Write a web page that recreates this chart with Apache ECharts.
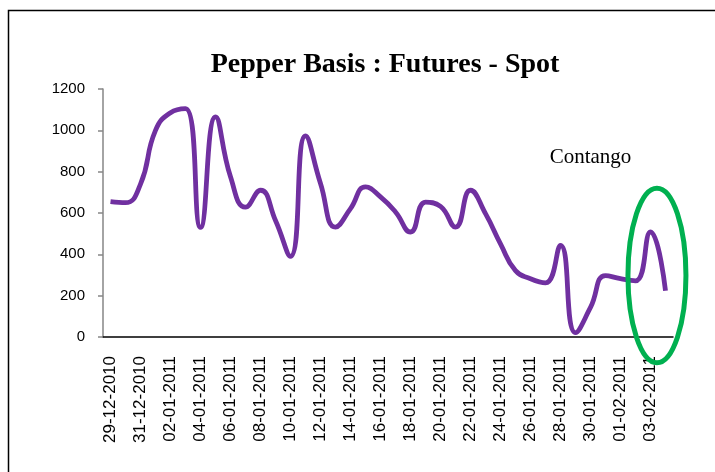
<!DOCTYPE html>
<html>
<head>
<meta charset="utf-8">
<script src="https://cdn.jsdelivr.net/npm/echarts@6/dist/echarts.min.js"></script>
<style>
  html, body { margin: 0; padding: 0; background: #fff; }
  #chart { width: 715px; height: 472px; }
</style>
</head>
<body>
<div id="chart"></div>
<script>
// every calendar day from 29-12-2010 to 04-02-2011
var dates = [
  "29-12-2010", "30-12-2010", "31-12-2010",
  "01-01-2011", "02-01-2011", "03-01-2011", "04-01-2011", "05-01-2011",
  "06-01-2011", "07-01-2011", "08-01-2011", "09-01-2011", "10-01-2011",
  "11-01-2011", "12-01-2011", "13-01-2011", "14-01-2011", "15-01-2011",
  "16-01-2011", "17-01-2011", "18-01-2011", "19-01-2011", "20-01-2011",
  "21-01-2011", "22-01-2011", "23-01-2011", "24-01-2011", "25-01-2011",
  "26-01-2011", "27-01-2011", "28-01-2011", "29-01-2011", "30-01-2011",
  "31-01-2011", "01-02-2011", "02-02-2011", "03-02-2011", "04-02-2011"
];

// basis = futures - spot
var basis = [
  655, 650, 740, 1000, 1085, 1105, 530, 1065, 775, 628,
  710, 564, 390, 973, 743, 532, 621, 726, 678, 605,
  508, 653, 632, 532, 710, 597, 451, 321, 282, 262,
  443, 21, 143, 297, 282, 272, 508, 224
];

var yTicks = { min: 0, max: 1200, interval: 200 };

var chart = echarts.init(document.getElementById("chart"));

chart.setOption({
  backgroundColor: "#ffffff",
  animation: false,
  title: {
    text: "Pepper Basis : Futures - Spot",
    left: 380,
    top: 46,
    textAlign: "center",
    textStyle: {
      fontFamily: "Liberation Serif",
      fontWeight: "bold",
      fontSize: 28,
      color: "#000"
    }
  },
  grid: {
    left: 103,
    right: 42,
    top: 89,
    bottom: 135
  },
  xAxis: {
    type: "category",
    data: dates,
    boundaryGap: true,
    axisLine: { lineStyle: { color: "#000", width: 1.5 } },
    axisTick: {
      interval: 1,
      length: 6,
      lineStyle: { color: "#000", width: 1.5 }
    },
    axisLabel: {
      interval: 1,
      rotate: 90,
      margin: 19,
      fontFamily: "Liberation Sans",
      fontSize: 17,
      color: "#000"
    },
    splitLine: { show: false }
  },
  yAxis: {
    type: "value",
    min: yTicks.min,
    max: yTicks.max,
    interval: yTicks.interval,
    axisLine: { show: true, lineStyle: { color: "#868686", width: 1.5 } },
    axisTick: { show: true, length: 5, lineStyle: { color: "#868686", width: 1.5 } },
    axisLabel: {
      margin: 18,
      fontFamily: "Liberation Sans",
      fontSize: 15,
      color: "#000",
      formatter: function (v) { return String(v); }
    },
    splitLine: { show: false }
  },
  series: [
    {
      name: "Basis",
      type: "line",
      data: basis,
      smooth: 0.5,
      showSymbol: false,
      lineStyle: { color: "#7030a0", width: 4.8 }
    }
  ]
});

// annotation: frame, label and ellipse placed from the axes
var p36 = chart.convertToPixel({ seriesIndex: 0 }, [36, 0]);
var p37 = chart.convertToPixel({ seriesIndex: 0 }, [37, 0]);
var step = p37[0] - p36[0];
var pTop = chart.convertToPixel({ seriesIndex: 0 }, [36, 720]);
var pBot = chart.convertToPixel({ seriesIndex: 0 }, [36, -125]);
var pText = chart.convertToPixel({ seriesIndex: 0 }, [31, 870]);

chart.setOption({
  graphic: [
    {
      type: "rect",
      shape: { x: 8.5, y: 10.5, width: 720, height: 480 },
      style: { fill: "none", stroke: "#000", lineWidth: 1.5 },
      silent: true
    },
    {
      type: "text",
      x: pText[0] + step * 1.0,
      y: pText[1],
      style: {
        text: "Contango",
        fill: "#000",
        font: "21px 'Liberation Serif'",
        textAlign: "center",
        textVerticalAlign: "middle"
      },
      silent: true
    },
    {
      type: "ellipse",
      shape: {
        cx: p36[0] + step * 0.43,
        cy: (pTop[1] + pBot[1]) / 2,
        rx: 29,
        ry: (pBot[1] - pTop[1]) / 2
      },
      style: { fill: "none", stroke: "#00b050", lineWidth: 5 },
      z: 10,
      silent: true
    }
  ]
});
</script>
</body>
</html>
